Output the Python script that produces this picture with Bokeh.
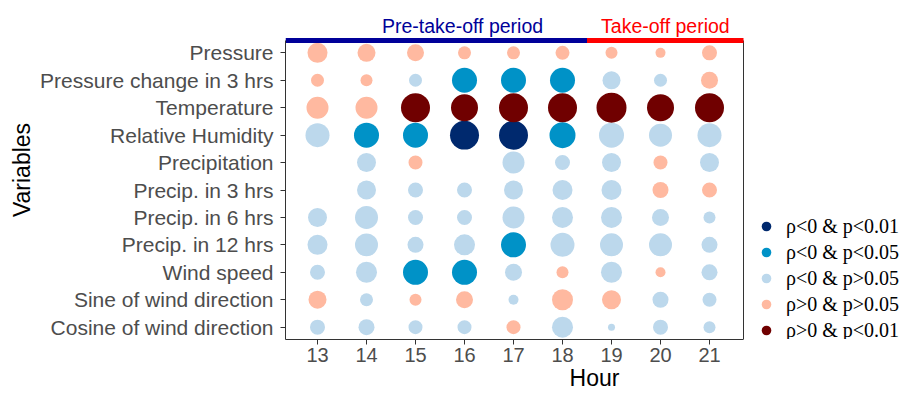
import math
from bokeh.plotting import figure
from bokeh.models import (ColumnDataSource, Range1d, FixedTicker, Legend, LegendItem,
                          Label, LinearInterpolator)
from bokeh.transform import transform
from bokeh.embed import file_html
from bokeh.resources import INLINE

nan = float("nan")

hours = [13, 14, 15, 16, 17, 18, 19, 20, 21]
variables = ["Pressure", "Pressure change in 3 hrs", "Temperature", "Relative Humidity",
             "Precipitation", "Precip. in 3 hrs", "Precip. in 6 hrs", "Precip. in 12 hrs",
             "Wind speed", "Sine of wind direction", "Cosine of wind direction"]

# Spearman rho per variable (hours 13..21)
rho_pressure     = [0.40, 0.36, 0.34, 0.26, 0.26, 0.28, 0.24, 0.20, 0.30]
rho_press_change = [0.26, 0.24, -0.26, -0.50, -0.50, -0.50, -0.36, -0.26, 0.34]
rho_temperature  = [0.44, 0.44, 0.58, 0.54, 0.58, 0.58, 0.60, 0.54, 0.58]
rho_humidity     = [-0.48, -0.50, -0.50, -0.58, -0.58, -0.52, -0.50, -0.46, -0.48]
rho_precip       = [nan, -0.38, 0.28, nan, -0.44, -0.30, -0.38, 0.28, -0.38]
rho_precip3      = [nan, -0.38, -0.30, -0.30, -0.38, -0.40, -0.40, 0.32, 0.30]
rho_precip6      = [-0.38, -0.46, -0.30, -0.30, -0.44, -0.42, -0.42, -0.34, -0.24]
rho_precip12     = [-0.40, -0.46, -0.32, -0.42, -0.50, -0.48, -0.46, -0.46, -0.32]
rho_wind_speed   = [-0.30, -0.42, -0.50, -0.50, -0.34, 0.24, -0.42, 0.20, -0.32]
rho_wind_sin     = [0.36, -0.26, 0.24, 0.34, -0.20, 0.42, 0.38, -0.32, -0.28]
rho_wind_cos     = [-0.30, -0.32, -0.28, -0.28, 0.28, -0.42, -0.14, -0.30, -0.24]

# significance level: 2 = p<0.01, 1 = p<0.05, 0 = p>0.05
sig_pressure     = [0, 0, 0, 0, 0, 0, 0, 0, 0]
sig_press_change = [0, 0, 0, 1, 1, 1, 0, 0, 0]
sig_temperature  = [0, 0, 2, 2, 2, 2, 2, 2, 2]
sig_humidity     = [0, 1, 1, 2, 2, 1, 0, 0, 0]
sig_precip       = [0, 0, 0, 0, 0, 0, 0, 0, 0]
sig_precip3      = [0, 0, 0, 0, 0, 0, 0, 0, 0]
sig_precip6      = [0, 0, 0, 0, 0, 0, 0, 0, 0]
sig_precip12     = [0, 0, 0, 0, 1, 0, 0, 0, 0]
sig_wind_speed   = [0, 0, 1, 1, 0, 0, 0, 0, 0]
sig_wind_sin     = [0, 0, 0, 0, 0, 0, 0, 0, 0]
sig_wind_cos     = [0, 0, 0, 0, 0, 0, 0, 0, 0]

categories = ["ρ<0 & p<0.01", "ρ<0 & p<0.05", "ρ<0 & p>0.05", "ρ>0 & p>0.05", "ρ>0 & p<0.01"]
cat_colors = ["#00296e", "#0092c7", "#bcd8ec", "#ffb9a0", "#700000"]

period_labels = ["Pre-take-off period", "Take-off period"]
period_colors = ["#000099", "#ff0000"]
period_label_x = [15.96, 20.1]

rho_rows = [rho_pressure, rho_press_change, rho_temperature, rho_humidity, rho_precip,
            rho_precip3, rho_precip6, rho_precip12, rho_wind_speed, rho_wind_sin, rho_wind_cos]
sig_rows = [sig_pressure, sig_press_change, sig_temperature, sig_humidity, sig_precip,
            sig_precip3, sig_precip6, sig_precip12, sig_wind_speed, sig_wind_sin, sig_wind_cos]

def category(r, s):
    if r < 0:
        return {2: 0, 1: 1, 0: 2}[s]
    return {0: 3, 1: 4, 2: 4}[s]

data = {k: {"x": [], "y": [], "abs_rho": []} for k in range(len(categories))}
n_var = len(variables)
for i, (rr, ss) in enumerate(zip(rho_rows, sig_rows)):
    for h, r, s in zip(hours, rr, ss):
        if math.isnan(r):
            continue
        c = category(r, s)
        data[c]["x"].append(h)
        data[c]["y"].append(n_var - i)
        data[c]["abs_rho"].append(abs(r))

# layout constants (pixels)
W, H = 903, 394
BL = 285            # frame left = panel left
PANEL_TOP = 40      # panel top from figure top
PANEL_BOT = 339     # panel bottom = frame bottom
PX_X = 49.0
panel_y0 = 0.55
panel_y1 = n_var + 0.45
PX_Y = (PANEL_BOT - PANEL_TOP) / (panel_y1 - panel_y0)
panel_x0 = hours[0] - 32 / PX_X
panel_x1 = hours[-1] + 34 / PX_X
x_end = panel_x0 + (W - BL) / PX_X
y_end = panel_y1 + PANEL_TOP / PX_Y

p = figure(width=W, height=H, output_backend="svg", toolbar_location=None,
           x_range=Range1d(panel_x0, x_end), y_range=Range1d(panel_y0, y_end),
           min_border_left=BL, min_border_right=0, min_border_top=0,
           min_border_bottom=H - PANEL_BOT)
p.outline_line_color = None
p.grid.visible = False
p.background_fill_color = "white"
p.border_fill_color = "white"

size_map = LinearInterpolator(x=[0, 0.6], y=[0, 30])
renderers = []
for k in range(len(categories)):
    src = ColumnDataSource(data[k])
    r = p.scatter(x="x", y="y", size=transform("abs_rho", size_map), source=src,
                  fill_color=cat_colors[k], line_color=None)
    renderers.append(r)

# panel right border
p.segment(x0=[panel_x1], y0=[panel_y0], x1=[panel_x1], y1=[panel_y1],
          line_color="#333333", line_width=1)

# period bars on top
split = (hours[5] + hours[6]) / 2
p.segment(x0=[panel_x0, split], y0=[panel_y1, panel_y1], x1=[split, panel_x1],
          y1=[panel_y1, panel_y1], line_color=period_colors, line_width=5)
for lab, col, xc in zip(period_labels, period_colors, period_label_x):
    p.add_layout(Label(x=xc, y=panel_y1 + 15 / PX_Y, text=lab, text_color=col,
                       text_font="Liberation Sans", text_font_size="19.5px",
                       text_align="center", text_baseline="middle"))

# axes
ax = p.xaxis[0]
ax.ticker = FixedTicker(ticks=hours)
ax.bounds = (panel_x0, panel_x1)
ay = p.yaxis[0]
ay.ticker = FixedTicker(ticks=list(range(1, n_var + 1)))
ay.major_label_overrides = {n_var - i: v for i, v in enumerate(variables)}
ay.bounds = (panel_y0, panel_y1)
for a in (ax, ay):
    a.axis_line_color = "#333333"
    a.major_tick_line_color = "#333333"
    a.minor_tick_line_color = None
    a.major_tick_in = 0
    a.major_tick_out = 5
    a.major_label_text_font = "Liberation Sans"
    a.major_label_text_color = "#4d4d4d"
    a.axis_label_text_font = "Liberation Sans"
    a.axis_label_text_font_size = "23px"
    a.axis_label_text_font_style = "normal"
    a.axis_label_text_color = "black"
ax.major_label_text_font_size = "20px"
ay.major_label_text_font_size = "21px"
ax.major_label_standoff = 3
ax.axis_label_standoff = 0
ay.major_label_standoff = 7
ay.axis_label_standoff = 2
ax.axis_label = "Hour"
ay.axis_label = "Variables"

legend = Legend(items=[LegendItem(label=c, renderers=[r]) for c, r in zip(categories, renderers)],
                location=(766 - 12 - BL, -3), orientation="vertical",
                glyph_width=24, glyph_height=24, label_height=24, label_standoff=8,
                spacing=2, padding=0, margin=0, border_line_color=None,
                background_fill_alpha=0,
                label_text_font="Liberation Serif", label_text_font_size="20px",
                label_text_color="black")
p.add_layout(legend)

open("out.html", "w").write(file_html(p, INLINE))
